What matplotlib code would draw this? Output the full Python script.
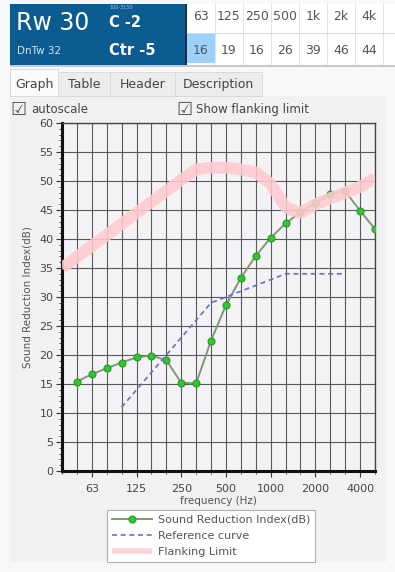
import matplotlib
matplotlib.use('Agg')
import matplotlib.pyplot as plt
from matplotlib.patches import Rectangle
from matplotlib.ticker import MultipleLocator, FixedLocator

# bandes de tiers d'octave (40 Hz sert seulement pour la limite latérale)
bands = [40, 50, 63, 80, 100, 125, 160, 200, 250, 315, 400, 500, 630, 800,
         1000, 1250, 1600, 2000, 2500, 3150, 4000, 5000]

sri_freqs = [50, 63, 80, 100, 125, 160, 200, 250, 315, 400, 500, 630, 800,
             1000, 1250, 1600, 2000, 2500, 3150, 4000, 5000]
sri_values = [15.4, 16.7, 17.7, 18.7, 19.6, 19.9, 19.1, 15.2, 15.1, 22.5, 28.6,
              33.3, 37.1, 40.2, 42.7, 44.6, 46.2, 47.8, 48.2, 44.9, 41.7]

ref_freqs = [100, 125, 160, 200, 250, 315, 400, 500, 630, 800, 1000, 1250,
             1600, 2000, 2500, 3150]
ref_values = [11, 14, 17, 20, 23, 26, 29, 30, 31, 32, 33, 34, 34, 34, 34, 34]

flank_freqs = bands
flank_values = [35.0, 36.9, 38.8, 40.7, 42.6, 44.5, 46.4, 48.3, 50.2, 52.0,
                52.3, 52.3, 52.0, 51.5, 49.5, 45.5, 44.5, 46.0, 47.0, 48.0,
                49.0, 50.5]

xtick_freqs = [63, 125, 250, 500, 1000, 2000, 4000]

# en-tête
rw_text = 'Rw 30'
c_text = 'C -2'
c_range = '100-3150'
dntw_text = 'DnTw 32'
ctr_text = 'Ctr -5'
octave_labels = ['63', '125', '250', '500', '1k', '2k', '4k']
octave_values = ['16', '19', '16', '26', '39', '46', '44']
tabs = ['Graph', 'Table', 'Header', 'Description']

W, H = 395, 572


def pos(f):
    return bands.index(f) - 1


def fx(x):
    return x / W


def fy(y):
    return 1 - y / H


fig = plt.figure(figsize=(W / 100, H / 100), dpi=100)
fig.patch.set_facecolor('#f8f8f8')


def rect(x0, y0, x1, y1, **kw):
    fig.patches.append(Rectangle((fx(x0), fy(y1)), (x1 - x0) / W, (y1 - y0) / H,
                                 transform=fig.transFigure, zorder=-5, **kw))


def txt(x, y, s, **kw):
    fig.text(fx(x), fy(y), s, **kw)


# panneau principal
rect(10, 96, 386, 562, facecolor='#f1f1f1', edgecolor='none')

# bloc bleu
rect(10, 4, 185, 65, facecolor='#0d5c91', edgecolor='none')
rect(185, 4, 187, 65, facecolor='#1c2f44', edgecolor='none')
txt(16, 30, rw_text, color='white', fontsize=17, va='baseline')
txt(109, 9, c_range, color='#9fc3e6', fontsize=3.5, va='baseline')
txt(109, 27, c_text, color='white', fontsize=10.5, fontweight='bold', va='baseline')
txt(17, 54, dntw_text, color='#cfe3f5', fontsize=7.5, va='baseline')
txt(109, 55, ctr_text, color='white', fontsize=10.5, fontweight='bold', va='baseline')

# tableau des octaves
rect(187, 4, 395, 65, facecolor='white', edgecolor='none')
rect(187, 34, 215, 63, facecolor='#9fd0f7', edgecolor='none')
col_w = 28
for i, (lab, val) in enumerate(zip(octave_labels, octave_values)):
    x0 = 187 + i * col_w
    rect(x0 + col_w - 0.5, 4, x0 + col_w + 0.5, 65, facecolor='#e2e2e2', edgecolor='none')
    txt(x0 + col_w / 2, 20, lab, color='#555555', fontsize=9, ha='center', va='baseline')
    txt(x0 + col_w / 2, 54, val, color='#555555', fontsize=9, ha='center', va='baseline')
rect(187, 33, 395, 34, facecolor='#d8d8d8', edgecolor='none')
rect(10, 65, 395, 67, facecolor='#c8c8c8', edgecolor='none')

# onglets
tab_x = [10, 58, 110, 175, 262]
for i, name in enumerate(tabs):
    if i == 0:
        rect(tab_x[i], 69, tab_x[i + 1], 96, facecolor='#fafafa', edgecolor='#d6d6d6', lw=0.6)
    else:
        rect(tab_x[i], 72, tab_x[i + 1], 96, facecolor='#ececec', edgecolor='#d6d6d6', lw=0.6)
    txt((tab_x[i] + tab_x[i + 1]) / 2, 88, name, color='#444444', fontsize=9,
        ha='center', va='baseline')

# cases à cocher
txt(10, 115, '\u2611', color='#555555', fontsize=13, va='baseline')
txt(31, 113, 'autoscale', color='#444444', fontsize=8.5, va='baseline')
txt(176, 115, '\u2611', color='#555555', fontsize=13, va='baseline')
txt(196, 113, 'Show flanking limit', color='#444444', fontsize=8.5, va='baseline')

# graphique
ax = fig.add_axes([fx(62), fy(471), (375 - 62) / W, (471 - 123) / H])
ax.set_facecolor('#f3f3f5')

x_sri = [pos(f) for f in sri_freqs]
x_ref = [pos(f) for f in ref_freqs]
x_fl = [pos(f) for f in flank_freqs]

ax.plot(x_sri, sri_values, color='#7f9a72', lw=1.4, marker='o', markersize=5,
        markerfacecolor='#35c435', markeredgecolor='#239a23', markeredgewidth=0.8,
        zorder=3, label='Sound Reduction Index(dB)')
ax.plot(x_ref, ref_values, color='#6a6ad0', lw=1.2, ls=(0, (3, 2.2)), zorder=3,
        label='Reference curve')
ax.plot(x_fl, flank_values, color='#ffcad0', lw=8.5, alpha=0.88, solid_capstyle='butt',
        zorder=4, label='Flanking Limit')

ax.set_xlim(-1, 20)
ax.set_ylim(0, 60)
ax.yaxis.set_major_locator(MultipleLocator(5))
ax.yaxis.set_minor_locator(MultipleLocator(1))
ax.xaxis.set_major_locator(FixedLocator([pos(f) for f in xtick_freqs]))
ax.set_xticklabels([str(f) for f in xtick_freqs])
ax.xaxis.set_minor_locator(MultipleLocator(1))
ax.grid(which='major', axis='y', color='#5a5a5a', lw=0.8)
ax.grid(which='both', axis='x', color='#5a5a5a', lw=0.8)
ax.set_axisbelow(True)

ax.tick_params(axis='both', which='major', direction='out', length=4, width=0.8,
               colors='#333333', labelcolor='#444444', labelsize=8)
ax.tick_params(axis='both', which='minor', direction='out', length=2, width=0.6,
               colors='#333333')
ax.tick_params(axis='y', pad=2)
ax.tick_params(axis='x', pad=5)

for side in ['left', 'bottom']:
    ax.spines[side].set_linewidth(2.2)
    ax.spines[side].set_color('#111111')
for side in ['top', 'right']:
    ax.spines[side].set_linewidth(1)
    ax.spines[side].set_color('#444444')

ax.set_xlabel('frequency (Hz)', fontsize=7.5, color='#555555', labelpad=2)
ax.set_ylabel('Sound Reduction Index(dB)', fontsize=7.5, color='#555555', labelpad=5)

leg = fig.legend(loc='upper left', bbox_to_anchor=(fx(107), fy(510)), fontsize=8,
                 frameon=True, fancybox=False, edgecolor='#b0b0b0', facecolor='white',
                 framealpha=1, handlelength=3.6, handletextpad=0.5, labelspacing=0.55,
                 borderpad=0.45, borderaxespad=0)
leg.get_frame().set_linewidth(0.8)
for t in leg.get_texts():
    t.set_color('#555555')
for h in leg.legend_handles:
    if h.get_label() == 'Flanking Limit':
        h.set_linewidth(4)

fig.savefig('out.png', dpi=100, facecolor=fig.get_facecolor())
